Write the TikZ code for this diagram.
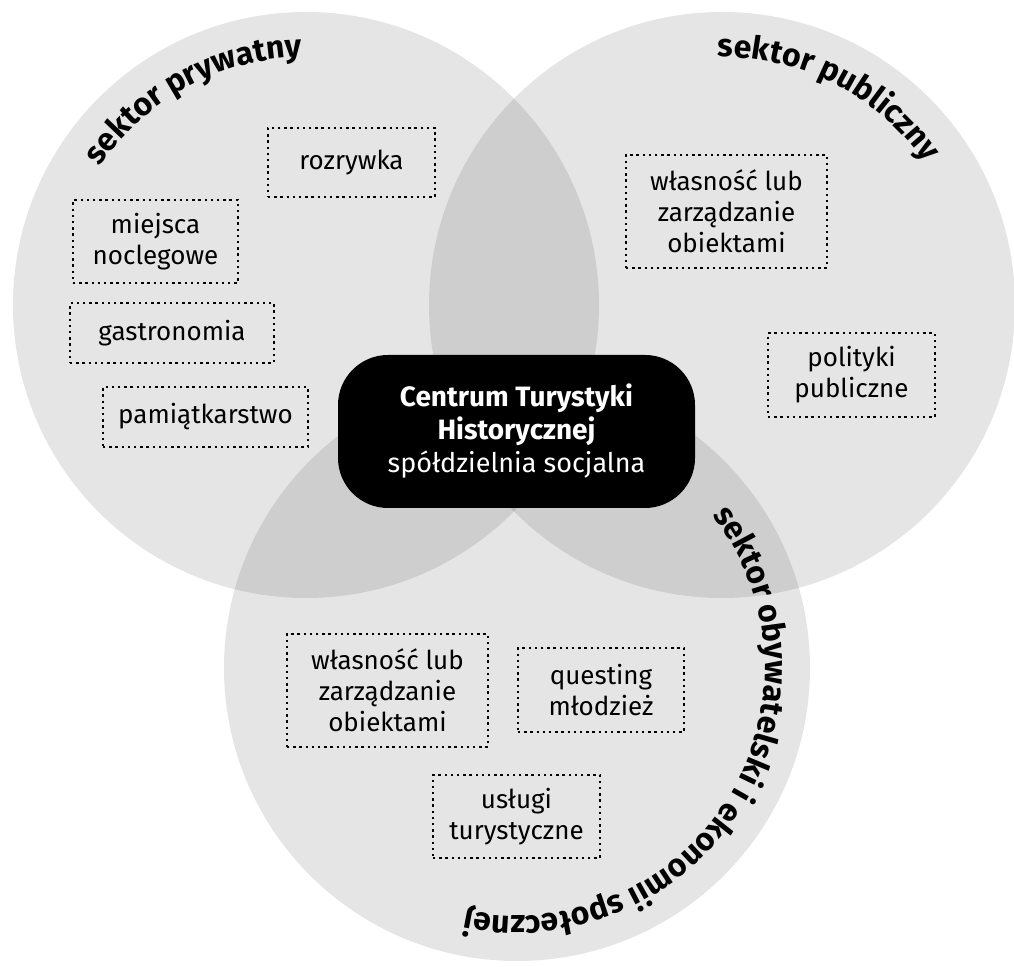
\documentclass[tikz,border=0pt]{standalone}
\usepackage{fontspec}
\setmainfont{Fira Sans}
\usetikzlibrary{decorations.text}
\newcommand{\sektorfont}{\bfseries\fontsize{32}{34}\selectfont}
\begin{document}
\begin{tikzpicture}[x=1pt, y=1pt,
  sfera/.style={fill=black, fill opacity=0.1},
  pole/.style={draw, line width=2.4pt, dash pattern=on 2.4pt off 3.8pt, align=center, inner sep=0pt, font=\fontsize{26}{31}\selectfont},
  centrum/.style={fill=black, text=white, rounded corners=50pt, align=center, minimum width=357pt, minimum height=153pt, font=\fontsize{27}{33}\selectfont},
  luk/.style={decorate, decoration={text along path, text align=center, text={|\sektorfont|#1}}}]
\useasboundingbox (0,0) rectangle (1014,966);
% trzy sektory
\coordinate (prywatny) at (306,661);
\coordinate (publiczny) at (722,661);
\coordinate (obywatelski) at (517,298);
\fill[sfera] (prywatny) circle[radius=293pt];
\fill[sfera] (publiczny) circle[radius=293pt];
\fill[sfera] (obywatelski) circle[radius=293pt];
% nazwy sektorow
\path[luk={sektor prywatny}] ([shift={(178.5:248pt)}]prywatny) arc[start angle=178.5, end angle=58.5, radius=248pt];
\path[luk={sektor publiczny}] ([shift={(123:248pt)}]publiczny) arc[start angle=123, end angle=3, radius=248pt];
\path[luk={sektor obywatelski i ekonomii społecznej}] ([shift={(62:248pt)}]obywatelski) arc[start angle=62, end angle=-126, radius=248pt];
% centrum
\node[centrum] (cth) at (516.5,534.5) {\textbf{\fontsize{28}{33}\selectfont Centrum Turystyki}\\\textbf{\fontsize{28}{33}\selectfont Historycznej}\\spółdzielnia socjalna};
% sektor prywatny
\node[pole, minimum width=167pt, minimum height=69pt] (rozrywka) at (351.5,803.5) {rozrywka};
\node[pole, minimum width=165pt, minimum height=83pt] (noclegi) at (155.5,724.5) {miejsca\\noclegowe};
\node[pole, minimum width=204pt, minimum height=60pt] (gastro) at (172,633) {gastronomia};
\node[pole, minimum width=205pt, minimum height=60pt] (pamiatki) at (205.5,549) {pamiątkarstwo};
% sektor publiczny
\node[pole, minimum width=201pt, minimum height=113pt] (obiekty1) at (726.5,754.5) {własność lub\\zarządzanie\\obiektami};
\node[pole, minimum width=167pt, minimum height=84pt] (polityki) at (851.5,591) {polityki\\publiczne};
% sektor obywatelski
\node[pole, minimum width=201pt, minimum height=113pt] (obiekty2) at (387.5,275.5) {własność lub\\zarządzanie\\obiektami};
\node[pole, minimum width=166pt, minimum height=84pt] (questing) at (601,276) {questing\\młodzież};
\node[pole, minimum width=167pt, minimum height=83pt] (uslugi) at (516.5,149.5) {usługi\\turystyczne};
\end{tikzpicture}
\end{document}
